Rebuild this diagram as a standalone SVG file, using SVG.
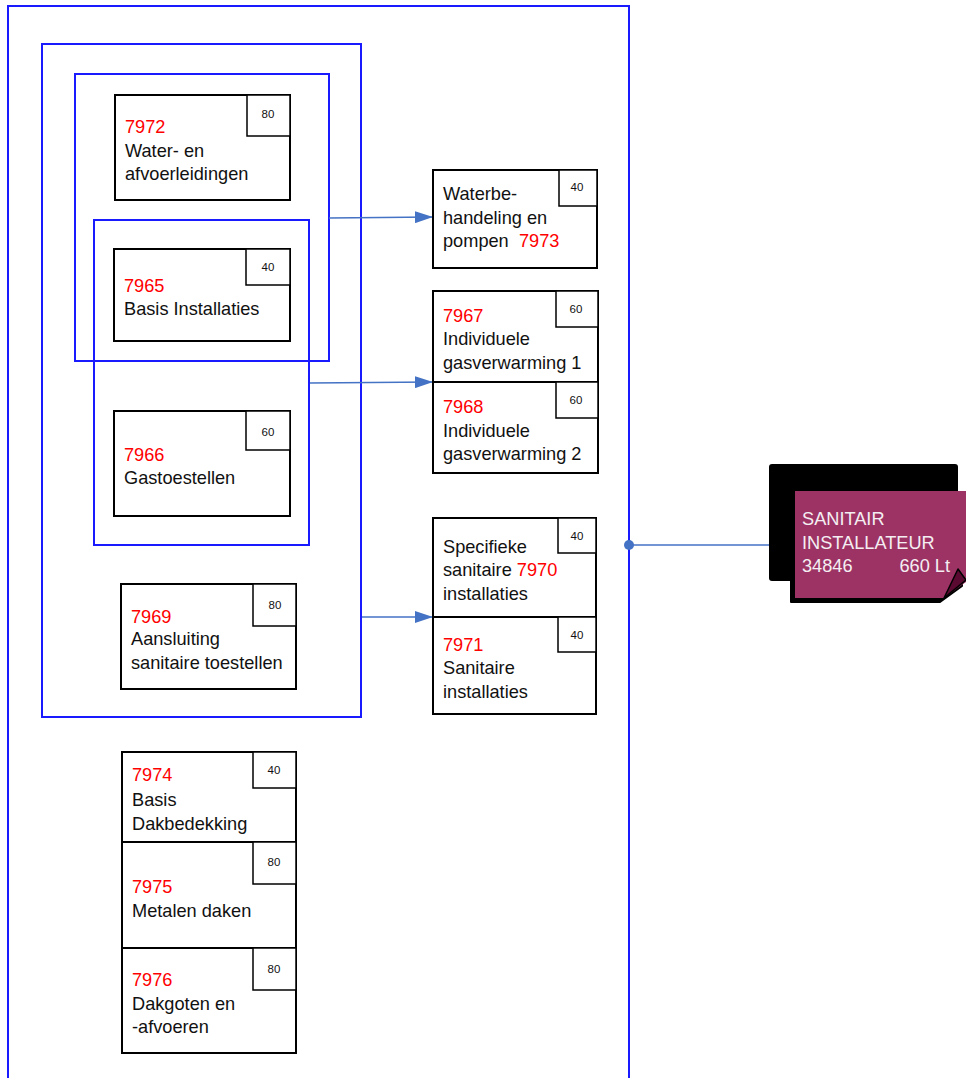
<svg xmlns="http://www.w3.org/2000/svg" width="966" height="1078" viewBox="0 0 966 1078">
<style>
.grp{fill:none;stroke:#1a1aff;stroke-width:2}
.box{fill:#fff;stroke:#000;stroke-width:2}
.bdg{fill:#fff;stroke:#000;stroke-width:1.5}
.t{font-family:"Liberation Sans",Arial,sans-serif;font-size:18.2px;fill:#111}
.r{fill:#ff0000}
.b{font-family:"Liberation Sans",Arial,sans-serif;font-size:11.5px;fill:#111;text-anchor:middle}
.con{stroke:#4472c4;stroke-width:1.3;fill:none}
.w{font-family:"Liberation Sans",Arial,sans-serif;font-size:18.2px;fill:#f4eef2}
</style>
<defs>
<marker id="ah" markerWidth="18" markerHeight="12" refX="18" refY="6" orient="auto" markerUnits="userSpaceOnUse">
<path d="M0,0 L18,6 L0,12 Z" fill="#4472c4"/>
</marker>
</defs>
<rect width="966" height="1078" fill="#fff"/>
<g id="groups">
<rect class="grp" x="8" y="6" width="621" height="1090"/>
<rect class="grp" x="42" y="44" width="319" height="673"/>
<rect class="grp" x="75" y="74" width="254" height="287"/>
<rect class="grp" x="94" y="220" width="215" height="325"/>
</g>
<g id="connectors">
<line class="con" x1="329" y1="218" x2="433" y2="217" marker-end="url(#ah)"/>
<line class="con" x1="310" y1="383" x2="433" y2="382" marker-end="url(#ah)"/>
<line class="con" x1="362" y1="617" x2="433" y2="617" marker-end="url(#ah)"/>
<line class="con" x1="629" y1="545" x2="795" y2="545"/>
<circle cx="629" cy="545" r="5" fill="#4472c4"/>
</g>
<g id="n7972">
<rect class="box" x="115" y="95" width="175" height="105"/>
<rect class="bdg" x="247" y="95" width="43" height="41"/>
<text class="b" x="268" y="118">80</text>
<text class="t r" x="125" y="133">7972</text>
<text class="t" x="125" y="157">Water- en</text>
<text class="t" x="125" y="180">afvoerleidingen</text>
</g>
<g id="n7965">
<rect class="box" x="114" y="249" width="176" height="92"/>
<rect class="bdg" x="246" y="249" width="44" height="36"/>
<text class="b" x="268" y="271">40</text>
<text class="t r" x="124" y="292">7965</text>
<text class="t" x="124" y="315">Basis Installaties</text>
</g>
<g id="n7966">
<rect class="box" x="114" y="411" width="176" height="105"/>
<rect class="bdg" x="246" y="411" width="44" height="39"/>
<text class="b" x="268" y="436">60</text>
<text class="t r" x="124" y="461">7966</text>
<text class="t" x="124" y="484">Gastoestellen</text>
</g>
<g id="n7969">
<rect class="box" x="121" y="584" width="175" height="105"/>
<rect class="bdg" x="253" y="584" width="43" height="42"/>
<text class="b" x="275" y="609">80</text>
<text class="t r" x="131" y="623">7969</text>
<text class="t" x="131" y="645">Aansluiting</text>
<text class="t" x="131" y="669">sanitaire toestellen</text>
</g>
<g id="n7973">
<rect class="box" x="433" y="170" width="164" height="98"/>
<rect class="bdg" x="559" y="170" width="38" height="36"/>
<text class="b" x="577" y="191">40</text>
<text class="t" x="443" y="200">Waterbe-</text>
<text class="t" x="443" y="224">handeling en</text>
<text class="t" x="443" y="247">pompen<tspan class="r" x="519">7973</tspan></text>
</g>
<g id="n7967">
<rect class="box" x="433" y="291" width="165" height="91"/>
<rect class="bdg" x="556" y="291" width="42" height="36"/>
<text class="b" x="576" y="313">60</text>
<text class="t r" x="443" y="322">7967</text>
<text class="t" x="443" y="345">Individuele</text>
<text class="t" x="443" y="369">gasverwarming 1</text>
</g>
<g id="n7968">
<rect class="box" x="433" y="382" width="165" height="91"/>
<rect class="bdg" x="556" y="382" width="42" height="36"/>
<text class="b" x="576" y="404">60</text>
<text class="t r" x="443" y="413">7968</text>
<text class="t" x="443" y="437">Individuele</text>
<text class="t" x="443" y="460">gasverwarming 2</text>
</g>
<g id="n7970">
<rect class="box" x="433" y="518" width="163" height="99"/>
<rect class="bdg" x="558" y="518" width="38" height="35"/>
<text class="b" x="577" y="540">40</text>
<text class="t" x="443" y="553">Specifieke</text>
<text class="t" x="443" y="576">sanitaire <tspan class="r">7970</tspan></text>
<text class="t" x="443" y="600">installaties</text>
</g>
<g id="n7971">
<rect class="box" x="433" y="617" width="163" height="97"/>
<rect class="bdg" x="558" y="617" width="38" height="35"/>
<text class="b" x="577" y="639">40</text>
<text class="t r" x="443" y="651">7971</text>
<text class="t" x="443" y="674">Sanitaire</text>
<text class="t" x="443" y="698">installaties</text>
</g>
<g id="n7974">
<rect class="box" x="122" y="752" width="174" height="90"/>
<rect class="bdg" x="253" y="752" width="43" height="36"/>
<text class="b" x="274" y="774">40</text>
<text class="t r" x="132" y="781">7974</text>
<text class="t" x="132" y="806">Basis</text>
<text class="t" x="132" y="830">Dakbedekking</text>
</g>
<g id="n7975">
<rect class="box" x="122" y="842" width="174" height="106"/>
<rect class="bdg" x="253" y="842" width="43" height="42"/>
<text class="b" x="274" y="866">80</text>
<text class="t r" x="132" y="893">7975</text>
<text class="t" x="132" y="917">Metalen daken</text>
</g>
<g id="n7976">
<rect class="box" x="122" y="948" width="174" height="105"/>
<rect class="bdg" x="253" y="948" width="43" height="42"/>
<text class="b" x="274" y="973">80</text>
<text class="t r" x="132" y="986">7976</text>
<text class="t" x="132" y="1010">Dakgoten en</text>
<text class="t" x="132" y="1033">-afvoeren</text>
</g>
<g id="sanitair">
<rect x="769" y="464" width="189" height="117" rx="3" fill="#000"/>
<path d="M791,495 L962,495 L962,586 L940,602 L791,602 Z" fill="#000" stroke="#000" stroke-width="2" stroke-linejoin="round"/>
<path d="M795,491 L966,491 L966,582 L944,598 L795,598 Z" fill="#9c3364"/>
<path d="M944,598 L958,569 L966,580 Z" fill="#5a0a30" stroke="#000" stroke-width="1.5" stroke-linejoin="round"/>
<text class="w" x="802" y="525">SANITAIR</text>
<text class="w" x="802" y="549">INSTALLATEUR</text>
<text class="w" x="802" y="572">34846</text>
<text class="w" x="950" y="572" text-anchor="end">660 Lt</text>
</g>
</svg>
